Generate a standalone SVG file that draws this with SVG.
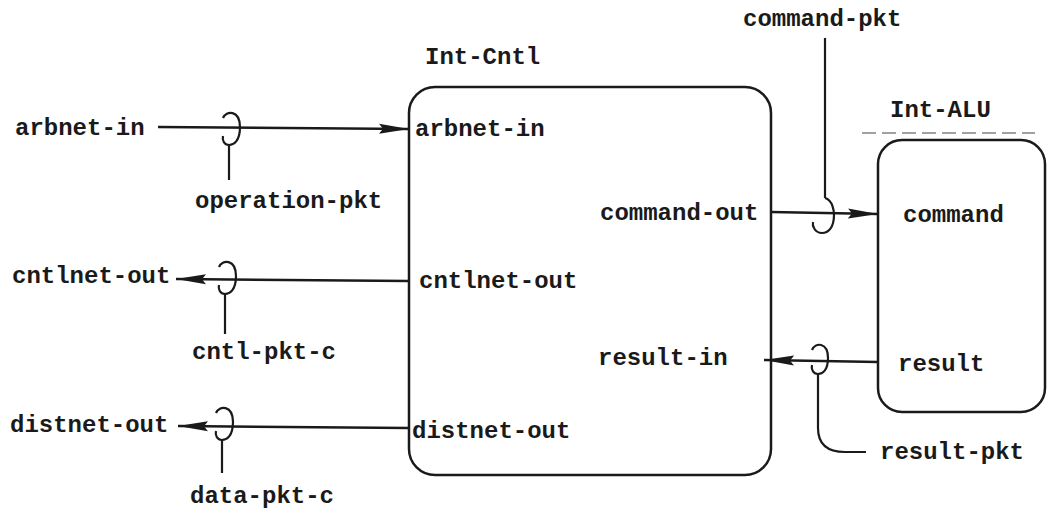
<svg xmlns="http://www.w3.org/2000/svg" width="1049" height="517" viewBox="0 0 1049 517">
<defs>
<style>
text{font-family:"Liberation Mono","DejaVu Sans Mono",monospace;font-size:24px;font-weight:bold;fill:#1a1a1a}
.box{fill:none;stroke:#1a1a1a;stroke-width:2.5}
.ln{fill:none;stroke:#1a1a1a;stroke-width:2.5}
.lp{fill:none;stroke:#1a1a1a;stroke-width:2.2}
</style>
<marker id="ah" viewBox="0 0 30 12" refX="30" refY="6" markerWidth="30" markerHeight="12" markerUnits="userSpaceOnUse" orient="auto">
<path d="M0,1 L30,6 L0,11 L4,6 Z" fill="#1a1a1a"/>
</marker>
</defs>
<rect width="1049" height="517" fill="#ffffff"/>

<g id="int-cntl">
<rect class="box" x="409" y="87" width="362" height="388" rx="26"/>
<text x="425" y="64">Int-Cntl</text>
<text x="415" y="136">arbnet-in</text>
<text x="600" y="220">command-out</text>
<text x="419" y="288">cntlnet-out</text>
<text x="598" y="365">result-in</text>
<text x="412" y="438">distnet-out</text>
</g>

<g id="int-alu">
<line x1="862" y1="133" x2="1035" y2="133" stroke="#444" stroke-width="1.2" stroke-dasharray="14,6"/>
<rect class="box" x="878" y="140" width="167" height="272" rx="24"/>
<text x="890" y="117">Int-ALU</text>
<text x="903" y="222">command</text>
<text x="898" y="371">result</text>
</g>

<g id="external-ports">
<text x="15" y="135">arbnet-in</text>
<text x="12" y="283">cntlnet-out</text>
<text x="10" y="432">distnet-out</text>
</g>

<g id="packet-labels">
<text x="195" y="208">operation-pkt</text>
<text x="192" y="359">cntl-pkt-c</text>
<text x="190" y="503">data-pkt-c</text>
<text x="743" y="26">command-pkt</text>
<text x="880" y="459">result-pkt</text>
</g>

<g id="connectors">
<line class="ln" x1="158" y1="127" x2="409" y2="129" marker-end="url(#ah)"/>
<line class="ln" x1="409" y1="281" x2="176" y2="279" marker-end="url(#ah)"/>
<line class="ln" x1="409" y1="428" x2="178" y2="426" marker-end="url(#ah)"/>
<line class="ln" x1="771" y1="212" x2="878" y2="214" marker-end="url(#ah)"/>
<line class="ln" x1="878" y1="362" x2="764" y2="360" marker-end="url(#ah)"/>

<path class="lp" d="M223,118 C226,110 240,110 240,127 C240,142 233,145 229,145 C224,145 222,140 223,136"/>
<line class="lp" x1="229" y1="145" x2="229" y2="180"/>

<path class="lp" d="M219,267 C222,259 236,259 236,276 C236,291 229,294 225,294 C220,294 218,289 219,285"/>
<line class="lp" x1="225" y1="294" x2="225" y2="334"/>

<path class="lp" d="M216,413 C219,405 233,405 233,422 C233,437 226,440 222,440 C217,440 215,435 216,431"/>
<line class="lp" x1="222" y1="440" x2="222" y2="473"/>

<path class="lp" d="M825,198 C833,200 834,212 834,215 C834,228 828,233 822,233 C815,233 812,226 813,222"/>
<line class="lp" x1="825" y1="198" x2="825" y2="38"/>

<path class="lp" d="M812,350 C815,342 828,342 828,358 C828,371 822,374 818,374 C813,374 811,369 812,365"/>
<path class="lp" d="M818,374 L818,428 C818,445 828,452 845,452 L866,452"/>
</g>
</svg>
